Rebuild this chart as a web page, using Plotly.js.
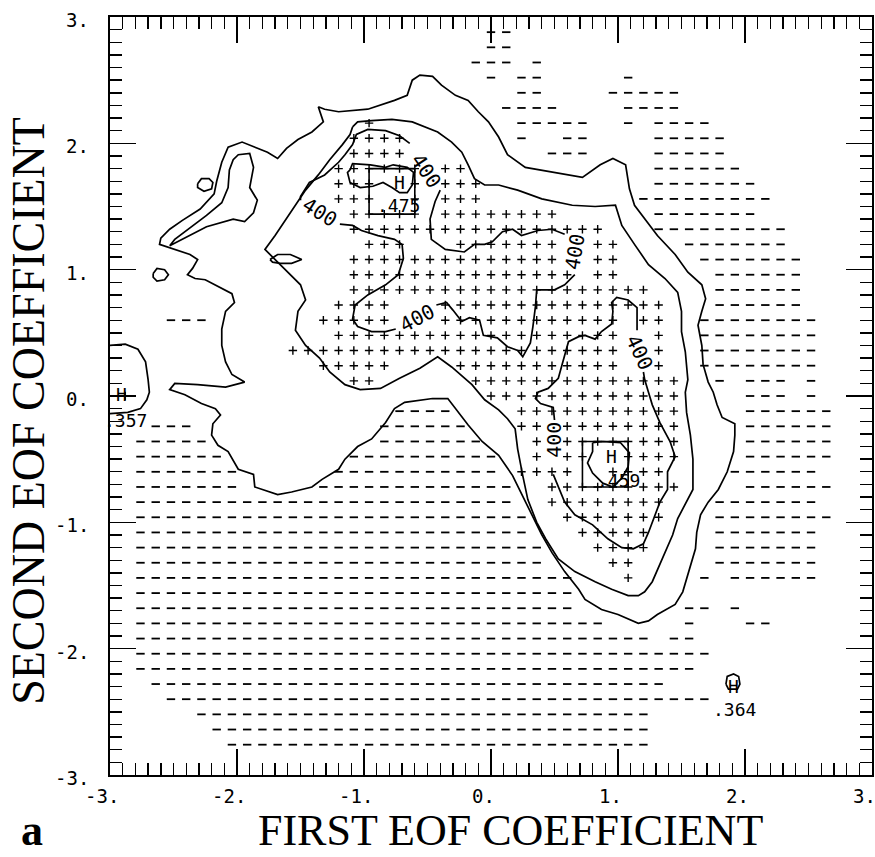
<!DOCTYPE html>
<html><head><meta charset="utf-8">
<script src="https://cdn.plot.ly/plotly-3.0.1.min.js"></script>
<style>html,body{margin:0;padding:0;background:#fff}</style>
</head><body>
<div id="chart" style="width:875px;height:857px"></div>
<script>
// Sample grid: 51 x 51 points, step 0.12 from -3 to 3.
// Each string is one row from y = 3 downwards; '+' and '-' flag the cell, '.' is blank.
const gridStart = -3;
const gridStep = 0.12;
const gridRows = [
  "",
  ".........................--",
  ".........................--",
  "........................---.-",
  ".........................-.--.....-",
  "...........................--....-----",
  "..........................----....----",
  ".................+.........-----..-.----",
  "................++++.......-..--....-----",
  "................++++.........---....-----",
  "...............++++++.++............------",
  "...............+++..+.+++...........-------",
  "...............+++..+.+++..........---------",
  "................+++++.++++++++......-------",
  "................+++++++++++++++++...---------",
  ".................+++...+++++++..++....-------",
  "................++++++++++++++..++.....-------",
  "................+++++++++++++++.++......------",
  "................++++++++++++++++++++....------",
  "...............++++...+++++++++++++++...------",
  "....---.......+++++...++++++++++++.++..--------",
  "...............+++++++++++++++++++..+..--------",
  "............++++++++++++++++++++++..+..--------",
  "..............+++++....+++++++++++..+..--------",
  "................++......++++++++++++++..-.---.-",
  ".+.......................+++++++++++++....---.-",
  "...................----....+++++++++++....------",
  "...---............------...++.++++++++....------",
  "..-----...........-------...+.++++++++....------",
  "..------........----------..+.++..++++....------",
  "..-------......-----------.++++..++++....------",
  "..-------.....-------------..+++++++++....------",
  "..-------------------------..++++++++...-------",
  "..--------------------------..+++++++...--------",
  "..--------------------------...+++++....-------",
  "..---------------------------...++++....-------",
  "..---------------------------....++.....-------",
  "..-----------------------------...+....-.------",
  "..-----------------------------",
  "..-----------------------------.......--.-",
  "..-------------------------------.....-...--",
  "..----------------------------------.--",
  "..--------------------------------------",
  "..-------------------------------------",
  "...----------------------------------",
  "....------------------------------------",
  "......------------------------------",
  ".......-----------------------------",
  "........----------------------------",
  "",
  ""
];

// Contour lines, as [x, y] pairs in EOF-coefficient units.
const outerContour = [[-1.36,2.29],[-1.31,2.27],[-1.20,2.25],[-0.97,2.27],[-0.76,2.34],[-0.66,2.38],[-0.62,2.50],[-0.56,2.54],[-0.46,2.53],[-0.39,2.46],[-0.28,2.38],[-0.18,2.34],[-0.10,2.25],[-0.02,2.17],[0.06,2.05],[0.13,1.91],[0.27,1.81],[0.48,1.77],[0.72,1.73],[0.86,1.83],[0.96,1.88],[1.06,1.83],[1.09,1.64],[1.13,1.51],[1.21,1.40],[1.31,1.27],[1.45,1.12],[1.55,0.98],[1.66,0.88],[1.69,0.77],[1.66,0.67],[1.63,0.56],[1.66,0.40],[1.67,0.25],[1.71,0.11],[1.75,0.03],[1.78,-0.07],[1.82,-0.17],[1.92,-0.22],[1.92,-0.31],[1.91,-0.44],[1.86,-0.60],[1.79,-0.74],[1.71,-0.84],[1.65,-0.94],[1.62,-1.08],[1.61,-1.21],[1.57,-1.34],[1.54,-1.45],[1.51,-1.55],[1.45,-1.65],[1.31,-1.73],[1.24,-1.78],[1.16,-1.80],[1.00,-1.73],[0.87,-1.69],[0.74,-1.61],[0.69,-1.53],[0.58,-1.39],[0.48,-1.24],[0.40,-1.10],[0.32,-0.94],[0.24,-0.78],[0.17,-0.63],[0.06,-0.47],[-0.07,-0.36],[-0.18,-0.23],[-0.28,-0.10],[-0.34,-0.02],[-0.46,-0.02],[-0.68,-0.05],[-0.76,-0.10],[-0.83,-0.21],[-0.94,-0.34],[-1.05,-0.40],[-1.15,-0.50],[-1.20,-0.58],[-1.33,-0.66],[-1.41,-0.72],[-1.57,-0.76],[-1.68,-0.78],[-1.86,-0.72],[-1.87,-0.62],[-1.99,-0.58],[-2.07,-0.44],[-2.15,-0.39],[-2.20,-0.31],[-2.19,-0.22],[-2.13,-0.15],[-2.17,-0.10],[-2.28,-0.06],[-2.41,0.01],[-2.53,0.05],[-2.49,0.10],[-2.31,0.09],[-2.09,0.07],[-1.94,0.11],[-2.04,0.17],[-2.09,0.27],[-2.12,0.40],[-2.12,0.53],[-2.09,0.67],[-2.02,0.74],[-2.04,0.81],[-2.12,0.85],[-2.25,0.92],[-2.33,0.93],[-2.39,0.96],[-2.35,1.01],[-2.31,1.08],[-2.37,1.12],[-2.49,1.16],[-2.61,1.20],[-2.60,1.25],[-2.53,1.32],[-2.43,1.39],[-2.29,1.48],[-2.18,1.60],[-2.16,1.70],[-2.12,1.85],[-2.07,1.97],[-1.96,2.01],[-1.86,1.97],[-1.76,1.93],[-1.68,1.88],[-1.61,1.96],[-1.52,2.03],[-1.41,2.09],[-1.32,2.17],[-1.36,2.29]];

const middleContour = [[-1.09,2.13],[-1.05,2.17],[-0.94,2.18],[-0.78,2.19],[-0.62,2.17],[-0.52,2.13],[-0.42,2.09],[-0.31,2.01],[-0.23,1.93],[-0.18,1.83],[-0.13,1.72],[-0.05,1.67],[0.06,1.67],[0.21,1.63],[0.40,1.56],[0.64,1.51],[0.82,1.50],[0.98,1.51],[1.03,1.35],[1.13,1.20],[1.24,1.04],[1.37,0.93],[1.47,0.82],[1.50,0.67],[1.50,0.51],[1.53,0.35],[1.55,0.13],[1.53,0.03],[1.54,-0.13],[1.57,-0.31],[1.59,-0.50],[1.59,-0.74],[1.54,-0.84],[1.47,-0.97],[1.43,-1.10],[1.37,-1.24],[1.31,-1.37],[1.27,-1.47],[1.21,-1.55],[1.16,-1.58],[1.08,-1.58],[0.95,-1.53],[0.82,-1.47],[0.66,-1.39],[0.53,-1.29],[0.43,-1.13],[0.36,-1.00],[0.29,-0.82],[0.25,-0.63],[0.21,-0.42],[0.19,-0.26],[0.13,-0.18],[0.06,-0.11],[-0.05,-0.03],[-0.15,0.09],[-0.31,0.23],[-0.42,0.31],[-0.56,0.22],[-0.72,0.14],[-0.87,0.06],[-1.03,0.05],[-1.15,0.09],[-1.27,0.19],[-1.35,0.30],[-1.46,0.40],[-1.54,0.52],[-1.52,0.67],[-1.46,0.76],[-1.50,0.88],[-1.58,0.96],[-1.68,1.06],[-1.78,1.16],[-1.70,1.27],[-1.62,1.39],[-1.54,1.51],[-1.46,1.63],[-1.36,1.75],[-1.27,1.87],[-1.17,1.99],[-1.11,2.07],[-1.09,2.13]];

// The 400 contour, broken where its labels sit.
const level400Pieces = [
  [[-1.19,1.36],[-1.09,1.35],[-1.02,1.31],[-0.89,1.27],[-0.76,1.24],[-0.70,1.20],[-0.69,1.09],[-0.73,0.96],[-0.83,0.88],[-0.97,0.80],[-1.07,0.72],[-1.09,0.61],[-1.05,0.55],[-0.94,0.51],[-0.83,0.51],[-0.75,0.53]],
  [[-0.43,0.72],[-0.35,0.74],[-0.30,0.68],[-0.23,0.59],[-0.17,0.62],[-0.09,0.60],[-0.06,0.48],[0.05,0.46],[0.13,0.39],[0.21,0.36],[0.25,0.31],[0.31,0.42],[0.33,0.55],[0.35,0.71],[0.36,0.84],[0.50,0.84],[0.58,0.88],[0.66,0.96]],
  [[0.58,1.28],[0.48,1.32],[0.37,1.31],[0.24,1.27],[0.17,1.32],[0.09,1.30],[0.01,1.22],[-0.05,1.20],[-0.13,1.20],[-0.21,1.14],[-0.36,1.16],[-0.47,1.24],[-0.48,1.40],[-0.44,1.54],[-0.40,1.63]],
  [[-0.64,2.00],[-0.72,2.06],[-0.83,2.10],[-0.97,2.11],[-1.06,2.07],[-1.09,1.99],[-1.15,1.91],[-1.20,1.85],[-1.31,1.75],[-1.43,1.69],[-1.50,1.58],[-1.50,1.55]],
  [[0.49,-0.62],[0.54,-0.74],[0.58,-0.84],[0.66,-0.94],[0.80,-1.02],[0.92,-1.13],[1.03,-1.20],[1.12,-1.21],[1.20,-1.17],[1.24,-1.08],[1.28,-0.97],[1.33,-0.84],[1.39,-0.74],[1.39,-0.60],[1.45,-0.48],[1.41,-0.36],[1.33,-0.21],[1.27,-0.07],[1.24,0.03],[1.21,0.13],[1.20,0.19]],
  [[1.15,0.52],[1.15,0.60],[1.15,0.70],[1.08,0.76],[0.99,0.78],[0.95,0.74],[0.96,0.67],[0.95,0.57],[0.87,0.51],[0.82,0.45],[0.74,0.48],[0.69,0.47],[0.61,0.43],[0.56,0.25],[0.53,0.14],[0.45,0.06],[0.37,0.03],[0.35,-0.02],[0.39,-0.06],[0.49,-0.09],[0.50,-0.19]]
];

// Small closed contours: peaks and isolated islands.
const peakLoopNW = [[-1.11,1.79],[-1.09,1.84],[-0.95,1.83],[-0.83,1.81],[-0.77,1.83],[-0.66,1.81],[-0.61,1.77],[-0.62,1.67],[-0.66,1.61],[-0.72,1.61],[-0.78,1.65],[-0.85,1.69],[-0.93,1.66],[-1.03,1.65],[-1.11,1.69],[-1.13,1.77],[-1.11,1.79]];
const peakLoopSE = [[0.80,-0.37],[0.88,-0.36],[1.02,-0.37],[1.09,-0.45],[1.08,-0.56],[1.03,-0.65],[0.96,-0.72],[0.88,-0.69],[0.80,-0.61],[0.76,-0.53],[0.80,-0.44],[0.80,-0.37]];
const edgeLoopW = [[-3.02,0.40],[-2.88,0.41],[-2.78,0.37],[-2.72,0.27],[-2.70,0.13],[-2.69,0.03],[-2.71,-0.03],[-2.76,-0.10],[-2.86,-0.13],[-2.96,-0.14],[-3.02,-0.14]];
const tinyLoopS = [[1.85,-2.28],[1.86,-2.22],[1.91,-2.20],[1.95,-2.22],[1.96,-2.28],[1.94,-2.32],[1.87,-2.32],[1.85,-2.28]];
const islandA = [[-2.31,1.68],[-2.28,1.72],[-2.22,1.72],[-2.19,1.69],[-2.20,1.64],[-2.26,1.62],[-2.31,1.65],[-2.31,1.68]];
const islandB = [[-2.66,0.97],[-2.63,1.01],[-2.57,1.00],[-2.54,0.96],[-2.57,0.92],[-2.63,0.91],[-2.66,0.94],[-2.66,0.97]];
const islandC = [[-1.74,1.08],[-1.68,1.12],[-1.58,1.12],[-1.49,1.08],[-1.57,1.05],[-1.66,1.05],[-1.72,1.06],[-1.74,1.08]];
const hornLoopW = [[-2.53,1.19],[-2.39,1.26],[-2.24,1.34],[-2.03,1.40],[-1.94,1.38],[-1.87,1.45],[-1.84,1.55],[-1.90,1.65],[-1.87,1.81],[-1.90,1.92],[-1.99,1.91],[-2.03,1.87],[-2.06,1.79],[-2.07,1.65],[-2.12,1.53],[-2.24,1.43],[-2.37,1.33],[-2.49,1.24],[-2.53,1.19]];

// Maxima: position of the H, printed value, and label position.
const highX = [-0.72, 0.95, -2.91, 1.91];
const highY = [1.69, -0.48, 0.01, -2.30];
const highText = [".475", ".459", ".357", ".364"];
const highTextX = [-0.73, 1.00, -2.88, 1.92];
const highTextY = [1.51, -0.67, -0.19, -2.48];
// Squares drawn round the two main maxima.
const boxX0 = [-0.96, 0.72], boxX1 = [-0.60, 1.08];
const boxY0 = [1.44, -0.72], boxY1 = [1.80, -0.36];

// "400" level labels: position and angle along the line.
const labelX = [-0.51, -1.35, -0.58, 0.66, 1.17, 0.50];
const labelY = [1.78, 1.46, 0.62, 1.14, 0.35, -0.35];
const labelAngle = [56, 32, -28, -80, 65, -90];

// Axis tick values and their printed labels.
const tickVals = [-3, -2, -1, 0, 1, 2, 3];
const tickText = ["-3.", "-2.", "-1.", "0.", "1.", "2.", "3."];

const plusX = [], plusY = [], dashX = [], dashY = [];
gridRows.forEach((row, k) => {
  for (let j = 0; j < row.length; j++) {
    const x = +(gridStart + gridStep * j).toFixed(2);
    const y = +(-gridStart - gridStep * k).toFixed(2);
    if (row[j] === '+') { plusX.push(x); plusY.push(y); }
    else if (row[j] === '-') { dashX.push(x); dashY.push(y); }
  }
});

const lineStyle = {color: '#000', width: 1.7};
function path(pts) {
  return {type: 'scatter', mode: 'lines', x: pts.map(p => p[0]), y: pts.map(p => p[1]),
          line: lineStyle, hoverinfo: 'skip', showlegend: false};
}

const traces = [
  {type: 'scatter', mode: 'markers', x: dashX, y: dashY, hoverinfo: 'skip', showlegend: false,
   marker: {symbol: 'line-ew', size: 6, color: '#000', line: {color: '#000', width: 1.8}}},
  {type: 'scatter', mode: 'markers', x: plusX, y: plusY, hoverinfo: 'skip', showlegend: false,
   marker: {symbol: 'cross-thin', size: 6, color: '#000', line: {color: '#000', width: 1.4}}},
  path(outerContour), path(middleContour),
  ...level400Pieces.map(path),
  path(peakLoopNW), path(peakLoopSE), path(edgeLoopW), path(tinyLoopS),
  path(islandA), path(islandB), path(islandC), path(hornLoopW)
];

const monoFamily = 'DejaVu Sans Mono, monospace';
const labelFont = () => ({family: monoFamily, size: 20, color: '#000'});
const peakFont = () => ({family: monoFamily, size: 18, color: '#000'});
const tickFont = () => ({family: monoFamily, size: 19, color: '#000'});
const annotations = [];
highX.forEach((x, i) => {
  annotations.push({x: x, y: highY[i], text: 'H', showarrow: false, xanchor: 'center', yanchor: 'middle',
                    borderpad: 0, font: peakFont()});
  annotations.push({x: highTextX[i], y: highTextY[i], text: highText[i], showarrow: false, xanchor: 'center',
                    yanchor: 'middle', borderpad: 0, font: peakFont()});
});
labelX.forEach((x, i) => {
  annotations.push({x: x, y: labelY[i], text: '400', textangle: labelAngle[i], showarrow: false,
                    xanchor: 'center', yanchor: 'middle', font: labelFont()});
});
// Tick labels, placed against the axes in the plotter's style.
tickVals.forEach((v, i) => {
  annotations.push({xref: 'x', yref: 'paper', x: v, y: -0.028, xshift: -8, text: tickText[i],
                    xanchor: 'center', yanchor: 'middle', borderpad: 0, showarrow: false, font: tickFont()});
  annotations.push({xref: 'paper', yref: 'y', x: -0.026, y: v, yshift: -3, text: tickText[i],
                    xanchor: 'right', yanchor: 'middle', borderpad: 0, showarrow: false, font: tickFont()});
});
const serif = 'Liberation Serif, DejaVu Serif, serif';
annotations.push(
  {xref: 'paper', yref: 'paper', x: -0.108, y: 0.480, xanchor: 'center', yanchor: 'middle',
   text: 'SECOND EOF COEFFICIENT', textangle: -90, showarrow: false,
   font: {family: serif, size: 46, color: '#000'}},
  {xref: 'paper', yref: 'paper', x: 0.525, y: -0.107, xanchor: 'center', yanchor: 'bottom', borderpad: 0,
   text: 'FIRST EOF COEFFICIENT', showarrow: false, font: {family: serif, size: 44, color: '#000'}},
  {xref: 'paper', yref: 'paper', x: -0.102, y: -0.107, xanchor: 'center', yanchor: 'bottom', borderpad: 0,
   text: '<b>a</b>', showarrow: false, font: {family: serif, size: 44, color: '#000'}}
);

const shapes = boxX0.map((x0, i) => ({type: 'rect', xref: 'x', yref: 'y', x0: x0, x1: boxX1[i],
  y0: boxY0[i], y1: boxY1[i], line: {color: '#000', width: 1.6}}));

function axis() {
  return {
    range: [-3, 3], tickmode: 'array', tickvals: tickVals, showticklabels: false,
    ticks: 'inside', ticklen: 26, tickwidth: 1.6, tickcolor: '#000',
    minor: {dtick: 0.1, ticks: 'inside', ticklen: 12, tickwidth: 1.4, tickcolor: '#000'},
    showline: true, linewidth: 2.2, linecolor: '#000', mirror: 'allticks',
    showgrid: false, zeroline: false, fixedrange: true
  };
}

const layout = {
  width: 875, height: 857,
  font: tickFont(),
  margin: {l: 110, r: 3, t: 17, b: 82},
  paper_bgcolor: '#fff', plot_bgcolor: '#fff',
  xaxis: axis(),
  yaxis: axis(),
  annotations: annotations, shapes: shapes, showlegend: false
};

Plotly.newPlot('chart', traces, layout, {staticPlot: true, displayModeBar: false});
</script>
</body></html>
